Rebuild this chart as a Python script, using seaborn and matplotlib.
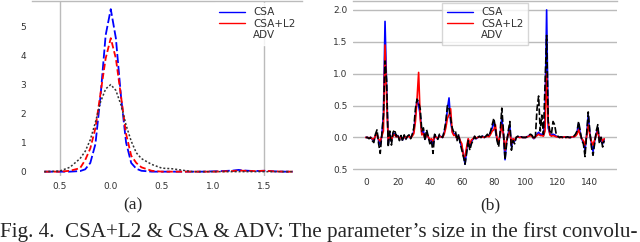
import numpy as np
import pandas as pd
import matplotlib
matplotlib.use("Agg")
import matplotlib.pyplot as plt
import seaborn as sns
from matplotlib.lines import Line2D

# Dados do painel (a): densidade dos parametros
dens_x = [-0.65, -0.5, -0.4, -0.3, -0.25, -0.2, -0.15, -0.1, -0.05, 0.0,
          0.05, 0.1, 0.15, 0.2, 0.25, 0.3, 0.4, 0.5, 0.6, 0.7,
          0.8, 0.9, 1.0, 1.1, 1.2, 1.25, 1.3, 1.4, 1.5, 1.6, 1.7, 1.78]
dens_csa = [0, 0, 0, 0.02, 0.08, 0.3, 0.95, 2.6, 4.7, 5.6,
            4.6, 2.6, 1.0, 0.3, 0.1, 0.03, 0, 0, 0, 0,
            0, 0, 0.01, 0.02, 0.04, 0.06, 0.04, 0.02, 0.03, 0.01, 0, 0]
dens_csa_l2 = [0, 0, 0.03, 0.12, 0.4, 0.8, 1.5, 2.7, 3.9, 4.6,
               3.9, 2.6, 1.3, 0.55, 0.3, 0.15, 0.03, 0, 0, 0,
               0, 0, 0, 0.01, 0.02, 0.04, 0.03, 0.02, 0.03, 0.01, 0, 0]
dens_adv = [0, 0.02, 0.15, 0.45, 0.7, 1.1, 1.7, 2.4, 2.85, 3.0,
            2.8, 2.3, 1.6, 1.05, 0.65, 0.45, 0.25, 0.12, 0.1, 0.05,
            0, 0, 0, 0, 0, 0, 0, 0, 0, 0, 0, 0]

# Dados do painel (b): valor de cada parametro
adv = [0.00, 0.00, -0.02, 0.00, -0.05, -0.08, 0.05, 0.12, -0.10, -0.25,
       0.05, 0.35, 1.20, 0.90, -0.15, 0.10, -0.12, 0.08, 0.12, 0.02,
       0.05, -0.05, 0.03, -0.06, 0.04, -0.03, 0.02, 0.04, -0.02, 0.05,
       0.15, 0.45, 0.60, 0.55, 0.45, 0.10, 0.15, -0.05, 0.12, 0.02,
       -0.10, -0.05, -0.25, 0.05, 0.00, -0.03, 0.05, 0.02, 0.00, 0.10,
       0.25, 0.50, 0.45, 0.30, 0.15, 0.08, 0.10, -0.05, 0.05, -0.10,
       -0.20, -0.30, -0.42, -0.25, -0.05, -0.20, -0.10, -0.05, 0.02, -0.03,
       0.00, 0.02, 0.00, 0.03, 0.00, 0.02, 0.05, 0.02, 0.10, 0.20,
       0.30, 0.15, -0.05, -0.15, 0.10, 0.46, 0.10, -0.35, -0.10, 0.10,
       0.25, -0.20, -0.05, -0.10, 0.00, 0.02, 0.00, 0.01, 0.00, 0.00,
       0.00, 0.02, 0.04, 0.05, 0.03, -0.03, 0.02, 0.45, 0.65, 0.10,
       0.35, 0.05, 0.80, 1.60, 0.25, 0.10, 0.05, 0.25, 0.20, 0.05,
       0.02, 0.00, 0.01, 0.00, 0.02, 0.00, 0.01, 0.00, 0.00, 0.02,
       0.02, 0.05, 0.10, 0.25, 0.10, -0.05, -0.10, -0.30, 0.05, 0.40,
       0.10, -0.15, -0.28, -0.10, 0.10, 0.20, -0.10, 0.00, -0.15, -0.05]
csa = [0.00, 0.00, -0.01, 0.00, -0.03, -0.05, 0.03, 0.06, -0.05, -0.12,
       0.03, 0.35, 1.82, 0.80, -0.10, 0.06, -0.06, 0.05, 0.06, 0.01,
       0.03, -0.03, 0.02, -0.04, 0.02, -0.02, 0.01, 0.03, -0.01, 0.03,
       0.10, 0.35, 0.60, 0.50, 0.35, 0.06, 0.10, -0.03, 0.08, 0.01,
       -0.06, -0.03, -0.12, 0.03, 0.00, -0.02, 0.03, 0.01, 0.00, 0.08,
       0.20, 0.45, 0.62, 0.25, 0.10, 0.05, 0.06, -0.03, 0.03, -0.08,
       -0.15, -0.25, -0.42, -0.20, -0.03, -0.15, -0.06, -0.03, 0.01, -0.02,
       0.00, 0.01, 0.00, 0.02, 0.00, 0.01, 0.03, 0.02, 0.08, 0.15,
       0.25, 0.10, -0.03, -0.10, 0.06, 0.30, 0.06, -0.35, -0.06, 0.06,
       0.18, -0.15, -0.03, -0.06, 0.00, 0.01, 0.00, 0.01, 0.00, 0.00,
       0.00, 0.01, 0.03, 0.04, 0.02, -0.02, 0.01, 0.05, 0.08, 0.05,
       0.05, 0.03, 0.30, 2.00, 0.15, 0.06, 0.03, 0.05, 0.04, 0.02,
       0.01, 0.00, 0.01, 0.00, 0.01, 0.00, 0.01, 0.00, 0.00, 0.01,
       0.01, 0.03, 0.08, 0.22, 0.06, -0.03, -0.08, -0.20, 0.03, 0.35,
       0.06, -0.10, -0.22, -0.06, 0.06, 0.15, -0.06, 0.00, -0.10, -0.03]
csa_l2 = [0.00, 0.00, -0.01, 0.00, -0.02, -0.03, 0.02, 0.05, -0.03, -0.06,
          0.02, 0.10, 1.45, 0.60, -0.05, 0.04, -0.04, 0.03, 0.04, 0.01,
          0.02, -0.02, 0.01, -0.03, 0.02, -0.01, 0.01, 0.02, -0.01, 0.02,
          0.06, 0.25, 0.60, 1.02, 0.30, 0.04, 0.06, -0.02, 0.05, 0.01,
          -0.04, -0.02, -0.06, 0.02, 0.00, -0.01, 0.02, 0.01, 0.00, 0.05,
          0.15, 0.30, 0.35, 0.45, 0.08, 0.03, 0.04, -0.02, 0.02, -0.05,
          -0.10, -0.30, -0.30, -0.15, -0.02, -0.10, -0.04, -0.02, 0.01, -0.01,
          0.00, 0.01, 0.00, 0.01, 0.00, 0.01, 0.02, 0.01, 0.05, 0.10,
          0.12, 0.20, -0.02, -0.06, 0.04, 0.20, 0.04, -0.20, -0.04, 0.04,
          0.10, -0.10, -0.02, -0.04, 0.00, 0.01, 0.00, 0.00, 0.00, 0.00,
          0.00, 0.01, 0.02, 0.03, 0.01, -0.01, 0.01, 0.03, 0.05, 0.03,
          0.03, 0.02, 0.10, 1.00, 0.25, 0.04, 0.02, 0.03, 0.02, 0.01,
          0.01, 0.00, 0.00, 0.00, 0.01, 0.00, 0.00, 0.00, 0.00, 0.01,
          0.01, 0.02, 0.05, 0.12, 0.04, -0.02, -0.05, -0.12, 0.02, 0.20,
          0.04, -0.06, -0.12, -0.04, 0.04, 0.10, -0.04, 0.00, -0.06, -0.02]

sns.set_style("white")
plt.rcParams['font.family'] = ['DejaVu Sans']

fig = plt.figure(figsize=(6.4, 2.42), dpi=100)
ax1 = fig.add_axes([0.05, 0.2727, 0.4219, 0.7231])
ax2 = fig.add_axes([0.5516, 0.2872, 0.4125, 0.7087])

# Painel (a)
df_a = pd.DataFrame({'x': dens_x, 'csa': dens_csa, 'csa_l2': dens_csa_l2, 'adv': dens_adv})
sns.lineplot(data=df_a, x='x', y='csa', ax=ax1, color='blue', lw=1.3,
             linestyle=(0, (5, 1.6)), errorbar=None, sort=False)
sns.lineplot(data=df_a, x='x', y='csa_l2', ax=ax1, color='red', lw=1.3,
             linestyle=(0, (3.5, 1.6)), errorbar=None, sort=False)
sns.lineplot(data=df_a, x='x', y='adv', ax=ax1, color='#333333', lw=1.1,
             linestyle=(0, (1.3, 1.3)), errorbar=None, sort=False)
ax1.set_xlim(-0.77, 1.87)
ax1.set_ylim(-0.15, 5.88)
ax1.set_xticks([-0.5, 0, 0.5, 1.0, 1.5])
ax1.set_xticklabels(['0.5', '0.0', '0.5', '1.0', '1.5'])
ax1.set_yticks([0, 1, 2, 3, 4, 5])
ax1.set_yticklabels(['0', '1', '2', '3', '4', '5'])
for v in [-0.5, 1.5]:
    ax1.axvline(v, color='#bbbbbb', lw=1.0, zorder=0)

# Painel (b)
idx = np.arange(len(adv))
df_b = pd.DataFrame({'i': idx, 'csa': csa, 'csa_l2': csa_l2, 'adv': adv})
sns.lineplot(data=df_b, x='i', y='csa', ax=ax2, color='blue', lw=1.2, errorbar=None)
sns.lineplot(data=df_b, x='i', y='csa_l2', ax=ax2, color='red', lw=1.2, errorbar=None)
sns.lineplot(data=df_b, x='i', y='adv', ax=ax2, color='black', lw=1.2,
             linestyle=(0, (4, 1.5)), errorbar=None)
ax2.set_xlim(-8, 157)
ax2.set_ylim(-0.55, 2.14)
ax2.set_xticks(range(0, 141, 20))
ax2.set_yticks([-0.5, 0, 0.5, 1.0, 1.5, 2.0])
ax2.set_yticklabels(['0.5', '0.0', '0.5', '1.0', '1.5', '2.0'])
ax2.yaxis.grid(True, color='#bbbbbb', lw=1.0)
ax2.set_axisbelow(True)

for ax in (ax1, ax2):
    ax.set_xlabel('')
    ax.set_ylabel('')
    for s in ['left', 'right', 'bottom']:
        ax.spines[s].set_visible(False)
    ax.spines['top'].set_color('#bbbbbb')
    ax.spines['top'].set_linewidth(1.0)
    ax.tick_params(length=0, labelsize=6.5, labelcolor='#333333', pad=4)

handles = [Line2D([], [], color='blue', lw=1.0),
           Line2D([], [], color='red', lw=1.0),
           Line2D([], [], color='white', lw=1.0)]
labels = ['CSA', 'CSA+L2', 'ADV']
leg1 = ax1.legend(handles, labels, loc='upper right', fontsize=7.5, frameon=True,
                  fancybox=False, edgecolor='white', handlelength=2.5,
                  borderaxespad=0.2, labelspacing=0.15)
leg2 = ax2.legend(handles, labels, loc='upper center', fontsize=7.5, frameon=True,
                  fancybox=False, edgecolor='#cccccc', handlelength=2.5,
                  borderaxespad=0.2, labelspacing=0.15)
for leg in (leg1, leg2):
    for t in leg.get_texts():
        t.set_color('#333333')

# Legendas da figura
fig.text(133 / 640, 1 - 205 / 242, '(a)', ha='center', va='center',
         fontsize=12.5, family='Liberation Serif')
fig.text(490 / 640, 1 - 205 / 242, '(b)', ha='center', va='center',
         fontsize=12.5, family='Liberation Serif')
fig.text(0.0, 5 / 242, "Fig. 4.  CSA+L2 & CSA & ADV: The parameter\u2019s size in the first convolu-",
         ha='left', va='baseline', fontsize=15.2, family='Liberation Serif')

fig.savefig('out.png', dpi=100)
